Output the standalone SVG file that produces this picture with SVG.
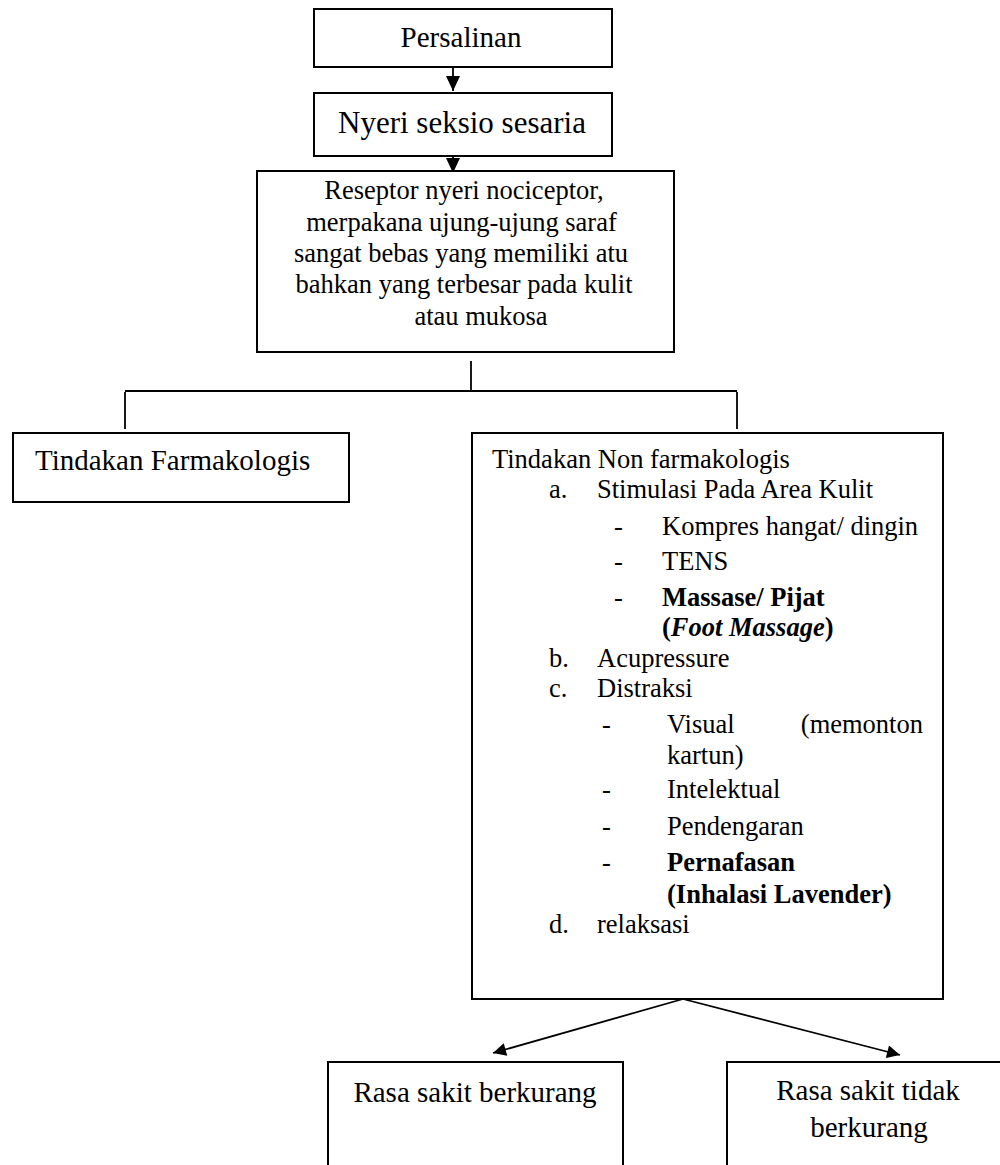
<svg xmlns="http://www.w3.org/2000/svg" width="1000" height="1165" viewBox="0 0 1000 1165">
<style>
  .box { fill: #ffffff; stroke: #000000; stroke-width: 2; }
  .ln { stroke: #000000; stroke-width: 1.8; fill: none; }
  text { font-family: "Liberation Serif", "Times New Roman", serif; fill: #000000; }
  .t29 { font-size: 29px; }
  .t31 { font-size: 31px; }
  .t26 { font-size: 26.5px; }
  .b { font-weight: bold; }
  .bi { font-weight: bold; font-style: italic; }
  .mid { text-anchor: middle; }
</style>
<defs>
  <marker id="ah" viewBox="0 0 10 10" refX="10" refY="5" markerWidth="8" markerHeight="7" markerUnits="userSpaceOnUse" orient="auto">
    <path d="M0,0 L10,5 L0,10 z" fill="#000000"/>
  </marker>
  <marker id="ah2" viewBox="0 0 10 10" refX="10" refY="5" markerWidth="17" markerHeight="13" markerUnits="userSpaceOnUse" orient="auto">
    <path d="M0,0 L10,5 L0,10 z" fill="#000000"/>
  </marker>
</defs>
<rect width="1000" height="1165" fill="#ffffff"/>

<g id="connectors">
  <path class="ln" d="M453,67 L453,91"/>
  <path d="M446,76 L460,76 L453,91 z" fill="#000"/>
  <path class="ln" d="M453,145 L453,172"/>
  <path d="M446,158 L460,158 L453,173 z" fill="#000"/>
  <path class="ln" d="M471,361 L471,391"/>
  <path class="ln" d="M125,391 L737,391"/>
  <path class="ln" d="M125,392 L125,429"/>
  <path class="ln" d="M737,392 L737,429"/>
  <path class="ln" d="M683,999 L493,1053" marker-end="url(#ah2)"/>
  <path class="ln" d="M683,999 L900,1055" marker-end="url(#ah2)"/>
</g>

<g id="persalinan">
  <rect class="box" x="314" y="9" width="298" height="58"/>
  <text class="t29 mid" x="461" y="47">Persalinan</text>
</g>

<g id="nyeri">
  <rect class="box" x="314" y="93" width="298" height="63"/>
  <text class="t31 mid" x="462" y="133">Nyeri seksio sesaria</text>
</g>

<g id="reseptor">
  <rect class="box" x="257" y="171" width="417" height="181"/>
  <text class="t26 mid" x="464" y="199">Reseptor nyeri nociceptor,</text>
  <text class="t26 mid" x="461.5" y="231">merpakana ujung-ujung saraf</text>
  <text class="t26 mid" x="461" y="262">sangat bebas yang memiliki atu</text>
  <text class="t26 mid" x="464" y="293">bahkan yang terbesar pada kulit</text>
  <text class="t26 mid" x="481" y="325">atau mukosa</text>
</g>

<g id="farmakologis">
  <rect class="box" x="13" y="433" width="336" height="69"/>
  <text class="t29" x="35" y="470">Tindakan Farmakologis</text>
</g>

<g id="nonfarmakologis">
  <rect class="box" x="472" y="433" width="471" height="566"/>
  <text class="t26" x="492" y="468">Tindakan Non farmakologis</text>
  <text class="t26" x="549" y="498">a.</text>
  <text class="t26" x="597" y="498">Stimulasi Pada Area Kulit</text>
  <text class="t26" x="614" y="535">-</text>
  <text class="t26" x="662" y="535">Kompres hangat/ dingin</text>
  <text class="t26" x="614" y="570">-</text>
  <text class="t26" x="662" y="570">TENS</text>
  <text class="t26" x="614" y="606">-</text>
  <text class="t26 b" x="662" y="606">Massase/ Pijat</text>
  <text class="t26 b" x="662" y="636">(<tspan class="bi">Foot Massage</tspan>)</text>
  <text class="t26" x="549" y="667">b.</text>
  <text class="t26" x="597" y="667">Acupressure</text>
  <text class="t26" x="549" y="697">c.</text>
  <text class="t26" x="597" y="697">Distraksi</text>
  <text class="t26" x="602" y="733">-</text>
  <text class="t26" x="667" y="733">Visual</text>
  <text class="t26" x="923" y="733" text-anchor="end">(memonton</text>
  <text class="t26" x="667" y="764">kartun)</text>
  <text class="t26" x="602" y="798">-</text>
  <text class="t26" x="667" y="798">Intelektual</text>
  <text class="t26" x="602" y="835">-</text>
  <text class="t26" x="667" y="835">Pendengaran</text>
  <text class="t26" x="602" y="871">-</text>
  <text class="t26 b" x="667" y="871">Pernafasan</text>
  <text class="t26 b" x="667" y="903">(Inhalasi Lavender)</text>
  <text class="t26" x="549" y="933">d.</text>
  <text class="t26" x="597" y="933">relaksasi</text>
</g>

<g id="berkurang">
  <rect class="box" x="328" y="1062" width="295" height="120"/>
  <text class="t29 mid" x="475" y="1102">Rasa sakit berkurang</text>
</g>

<g id="tidak-berkurang">
  <rect class="box" x="727" y="1062" width="290" height="120"/>
  <text class="t29 mid" x="868" y="1100">Rasa sakit tidak</text>
  <text class="t29 mid" x="869" y="1137">berkurang</text>
</g>
</svg>
